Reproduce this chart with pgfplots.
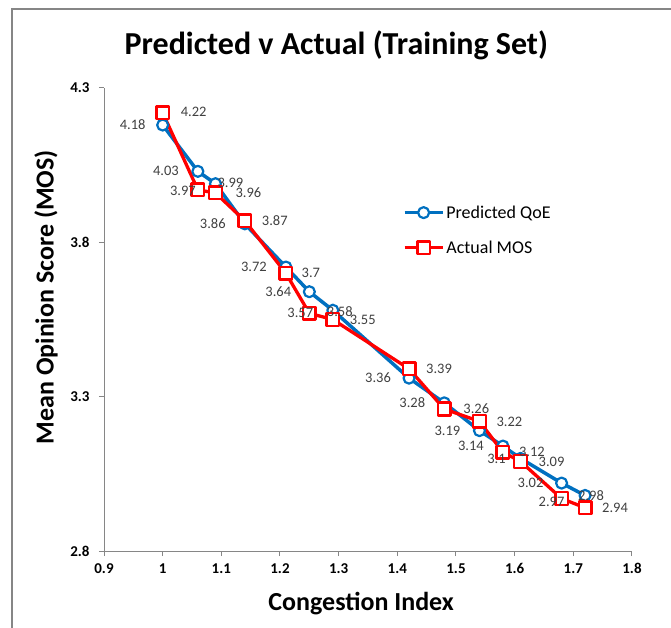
\documentclass[border=0pt]{standalone}
\usepackage{fontspec}
\setmainfont{Carlito}
\usepackage{pgfplots}
\pgfplotsset{compat=1.18}
\usepackage{pgfplotstable}

\definecolor{qoeblue}{HTML}{0070C0}
\definecolor{axisgray}{HTML}{868686}
\definecolor{labgray}{HTML}{404040}

% x, value, label offset (dx, dy) in pt
\pgfplotstableread{
x    y    dx  dy
1.00 4.18 -30 0
1.06 4.03 -32 0
1.09 3.99 15  1
1.14 3.86 -32 0
1.21 3.72 -32 0
1.25 3.64 -31 0
1.29 3.58 7   -1
1.42 3.36 -31 0
1.48 3.28 -32 0
1.54 3.19 -32 0
1.58 3.14 -32 0
1.61 3.1  -24 0
1.68 3.02 -31 0
1.72 2.98 6   0
}\predicted

\pgfplotstableread{
x    y    dx  dy
1.00 4.22 31  1
1.06 3.97 -15 -1
1.09 3.96 33  0
1.14 3.87 30  0
1.21 3.7  25  0
1.25 3.57 -9  0
1.29 3.55 30  0
1.42 3.39 30  0
1.48 3.26 32  0
1.54 3.22 30  0
1.58 3.12 29  0
1.61 3.09 31  0
1.68 2.97 -10 -3
1.72 2.94 30  0
}\actual

\pgfplotsset{
  datalabels/.style={draw=none, mark=none, forget plot,
    nodes near coords, point meta=explicit symbolic,
    visualization depends on={\thisrow{dx} \as \labdx},
    visualization depends on={\thisrow{dy} \as \labdy},
    every node near coord/.append style={font=\fontsize{14.5}{17}\selectfont,
      text=labgray, inner sep=0pt, anchor=center,
      xshift=\labdx pt, yshift=\labdy pt}},
}

\begin{document}
\begin{tikzpicture}
\useasboundingbox (0pt,0pt) rectangle (671pt,-628pt);
\draw[axisgray, line width=1.2pt] (12pt,-628pt) -- (12pt,-9pt) -- (671pt,-9pt);
\begin{axis}[
  at={(104pt,-551pt)}, anchor=south west,
  scale only axis, width=528pt, height=463pt,
  xmin=0.9, xmax=1.8, ymin=2.8, ymax=4.3,
  xtick={0.9,1.0,1.1,1.2,1.3,1.4,1.5,1.6,1.7,1.8},
  ytick={2.8,3.3,3.8,4.3},
  axis lines*=left,
  axis line style={axisgray, line width=1pt},
  tick style={axisgray, line width=1pt},
  tick align=outside, major tick length=5pt,
  ticklabel style={font=\bfseries\fontsize{15}{17}\selectfont},
  xticklabel style={yshift=-4pt},
  yticklabel style={xshift=-6pt},
  /pgf/number format/assume math mode=true,
  title={Predicted v Actual (Training Set)},
  title style={at={(axis description cs:0.44,1.08)}, anchor=center,
    font=\bfseries\fontsize{32}{38}\selectfont},
  xlabel={Congestion Index},
  xlabel style={at={(axis description cs:0.487,-0.1145)}, anchor=center,
    font=\bfseries\fontsize{26}{31}\selectfont},
  ylabel={Mean Opinion Score (MOS)},
  ylabel style={at={(axis description cs:-0.11,0.548)}, anchor=center,
    font=\bfseries\fontsize{26}{31}\selectfont},
  legend style={at={(axis description cs:0.56,0.693)}, anchor=west,
    draw=none, fill=none, font=\fontsize{18}{21}\selectfont,
    row sep=17pt, cells={anchor=west}},
  legend image code/.code={
    \draw[mark repeat=2,mark phase=2] plot coordinates {(0pt,0pt) (19pt,0pt) (38pt,0pt)};},
  clip=false,
]
\addplot[qoeblue, line width=3.5pt, line join=round,
  mark=*, mark size=5.5pt,
  mark options={line width=2.2pt, fill=white, draw=qoeblue, solid}]
  table[x=x, y=y] {\predicted};
\addlegendentry{Predicted QoE}
\addplot[red, line width=3.3pt, line join=round,
  mark=square*, mark size=6.3pt,
  mark options={line width=2.5pt, fill=white, draw=red, solid}]
  table[x=x, y=y] {\actual};
\addlegendentry{Actual MOS}
% value labels on top of both series
\addplot[datalabels] table[x=x, y=y, meta=y] {\predicted};
\addplot[datalabels] table[x=x, y=y, meta=y] {\actual};
\end{axis}
\end{tikzpicture}
\end{document}
